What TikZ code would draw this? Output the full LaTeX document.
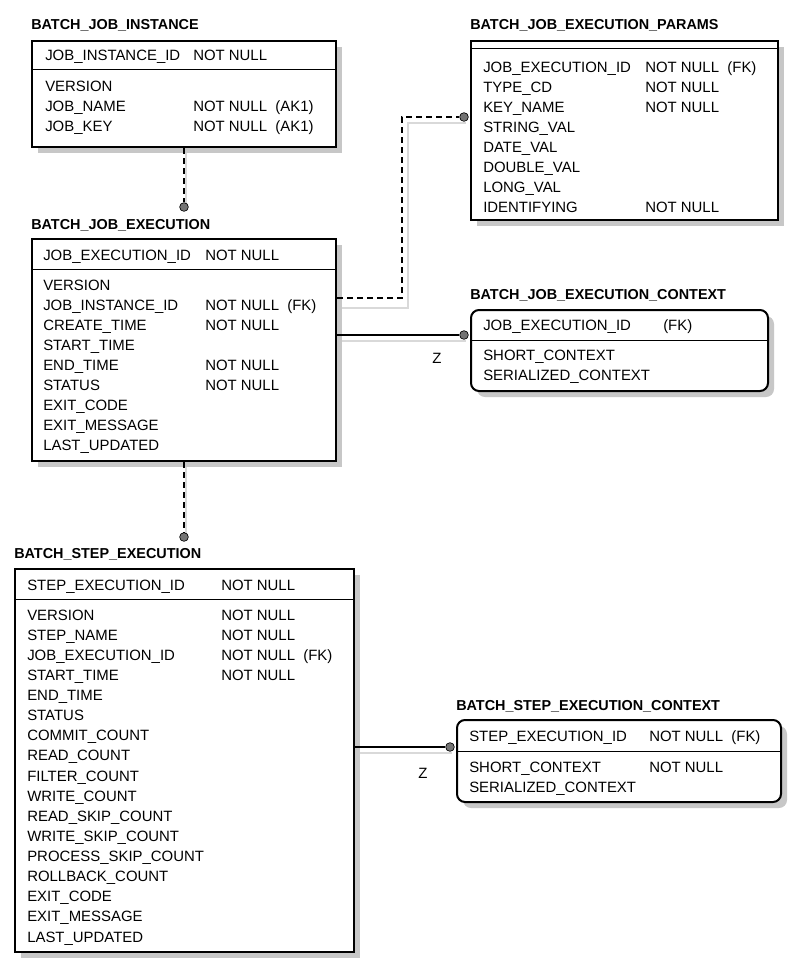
\documentclass[tikz,border=0pt]{standalone}
\usepackage{fontspec}
\setmainfont{Liberation Sans}
\usetikzlibrary{shadows}

\tikzset{
  tbl/.style={draw, line width=1.5pt, fill=white, anchor=north west, inner sep=0pt,
    drop shadow={shadow xshift=4.5pt, shadow yshift=-4.5pt, fill=black!22, opacity=1}},
  ctx/.style={tbl, rounded corners=6pt},
  ttl/.style={anchor=base west, font=\bfseries\fontsize{10.8}{12}\selectfont, inner sep=0pt},
  fld/.style={anchor=base west, font=\fontsize{11.2}{12}\selectfont, inner sep=0pt},
  rel/.style={line width=0.8pt},
  dsh/.style={rel, dash pattern=on 4.5pt off 3pt},
  relshadow/.style={line width=0.9pt, black!15},
  dot/.style={circle, draw=black, fill=black!55, line width=0.5pt, inner sep=0pt, minimum size=6.5pt}
}

\begin{document}
\begin{tikzpicture}[x=0.75pt,y=-0.75pt]
\useasboundingbox[fill=white] (0,0) rectangle (794,965);

% connector shadows
\draw[relshadow] (186,148) -- (186,209);
\draw[relshadow] (337,308) -- (408,308) -- (408,123) -- (466,123);
\draw[relshadow] (337,341) -- (466,341);
\draw[relshadow] (186,462) -- (186,539);
\draw[relshadow] (355,753) -- (452,753);

% BATCH_JOB_INSTANCE
\node[ttl] at (31,29) {BATCH\_JOB\_INSTANCE};
\node[tbl, minimum width={304*0.75pt}, minimum height={106*0.75pt}] (ji) at (31,40) {};
\draw[line width=0.6pt] (31,69) -- (335,69);
\node[fld] at (45,60) {JOB\_INSTANCE\_ID};
\node[fld] at (193,60) {NOT NULL};
\foreach \a/\b [count=\i] in {VERSION/, JOB\_NAME/NOT NULL\ \ (AK1), JOB\_KEY/NOT NULL\ \ (AK1)}{
  \node[fld] at (45,71+20*\i) {\a};
  \node[fld] at (193,71+20*\i) {\b};
}

% BATCH_JOB_EXECUTION_PARAMS
\node[ttl] at (470,29) {BATCH\_JOB\_EXECUTION\_PARAMS};
\node[tbl, minimum width={307*0.75pt}, minimum height={179*0.75pt}] (jp) at (470,40) {};
\draw[line width=0.6pt] (470,48) -- (777,48);
\foreach \a/\b [count=\i] in {JOB\_EXECUTION\_ID/NOT NULL\ \ (FK), TYPE\_CD/NOT NULL, KEY\_NAME/NOT NULL,
  STRING\_VAL/, DATE\_VAL/, DOUBLE\_VAL/, LONG\_VAL/, IDENTIFYING/NOT NULL}{
  \node[fld] at (483,52+20*\i) {\a};
  \node[fld] at (645,52+20*\i) {\b};
}

% BATCH_JOB_EXECUTION
\node[ttl] at (31,229) {BATCH\_JOB\_EXECUTION};
\node[tbl, minimum width={304*0.75pt}, minimum height={222*0.75pt}] (je) at (31,238) {};
\draw[line width=0.6pt] (31,269) -- (335,269);
\node[fld] at (43,260) {JOB\_EXECUTION\_ID};
\node[fld] at (205,260) {NOT NULL};
\foreach \a/\b [count=\i] in {VERSION/, JOB\_INSTANCE\_ID/NOT NULL\ \ (FK), CREATE\_TIME/NOT NULL,
  START\_TIME/, END\_TIME/NOT NULL, STATUS/NOT NULL, EXIT\_CODE/, EXIT\_MESSAGE/, LAST\_UPDATED/}{
  \node[fld] at (43,270+20*\i) {\a};
  \node[fld] at (205,270+20*\i) {\b};
}

% BATCH_JOB_EXECUTION_CONTEXT
\node[ttl] at (470,299) {BATCH\_JOB\_EXECUTION\_CONTEXT};
\node[ctx, minimum width={297*0.75pt}, minimum height={81*0.75pt}] (jc) at (470,309) {};
\draw[line width=0.6pt] (470,340) -- (767,340);
\node[fld] at (483,330) {JOB\_EXECUTION\_ID};
\node[fld] at (663,330) {(FK)};
\node[fld] at (483,360) {SHORT\_CONTEXT};
\node[fld] at (483,380) {SERIALIZED\_CONTEXT};

% BATCH_STEP_EXECUTION
\node[ttl] at (14,558) {BATCH\_STEP\_EXECUTION};
\node[tbl, minimum width={339*0.75pt}, minimum height={383*0.75pt}] (se) at (14,568) {};
\draw[line width=0.6pt] (14,599) -- (353,599);
\node[fld] at (27,590) {STEP\_EXECUTION\_ID};
\node[fld] at (221,590) {NOT NULL};
\foreach \a/\b [count=\i] in {VERSION/NOT NULL, STEP\_NAME/NOT NULL, JOB\_EXECUTION\_ID/NOT NULL\ \ (FK),
  START\_TIME/NOT NULL, END\_TIME/, STATUS/, COMMIT\_COUNT/, READ\_COUNT/, FILTER\_COUNT/, WRITE\_COUNT/,
  READ\_SKIP\_COUNT/, WRITE\_SKIP\_COUNT/, PROCESS\_SKIP\_COUNT/, ROLLBACK\_COUNT/, EXIT\_CODE/,
  EXIT\_MESSAGE/, LAST\_UPDATED/}{
  \node[fld] at (27,600+20.12*\i) {\a};
  \node[fld] at (221,600+20.12*\i) {\b};
}

% BATCH_STEP_EXECUTION_CONTEXT
\node[ttl] at (456,710) {BATCH\_STEP\_EXECUTION\_CONTEXT};
\node[ctx, minimum width={324*0.75pt}, minimum height={82*0.75pt}] (sc) at (456,719) {};
\draw[line width=0.6pt] (456,751) -- (780,751);
\node[fld] at (469,741) {STEP\_EXECUTION\_ID};
\node[fld] at (649,741) {NOT NULL\ \ (FK)};
\node[fld] at (469,772) {SHORT\_CONTEXT};
\node[fld] at (649,772) {NOT NULL};
\node[fld] at (469,792) {SERIALIZED\_CONTEXT};

% relationships
\node[dot] (d1) at (184,207) {};
\node[dot] (d2) at (464,117) {};
\node[dot] (d3) at (464,335) {};
\node[dot] (d4) at (184,537) {};
\node[dot] (d5) at (450,747) {};
\coordinate (b1) at (402,298);
\draw[dsh] (ji.south -| d1) -- (d1);
\draw[dsh] (je.east |- b1) -- (b1) |- (d2);
\draw[rel] (je.east |- d3) -- (d3);
\draw[dsh] (je.south -| d4) -- (d4);
\draw[rel] (se.east |- d5) -- (d5);
\node[fld] at (432,363) {Z};
\node[fld] at (418,778) {Z};
\end{tikzpicture}
\end{document}
